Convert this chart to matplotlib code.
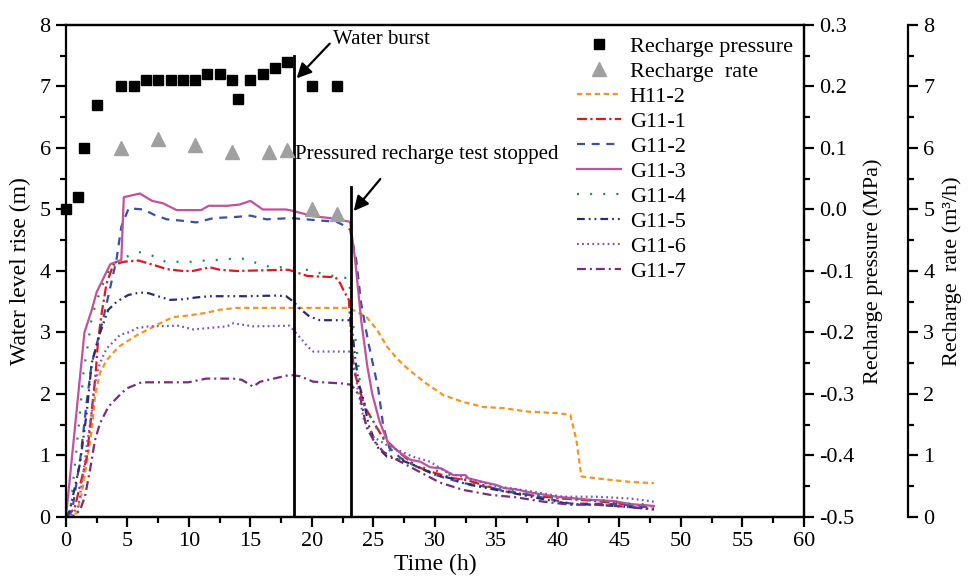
import numpy as np
import matplotlib
matplotlib.use("Agg")
import matplotlib.pyplot as plt
from matplotlib.ticker import MultipleLocator, FormatStrFormatter
from matplotlib.lines import Line2D

plt.rcParams['font.family'] = ['Liberation Serif', 'DejaVu Serif']

# water level rise (m) for each observation well
t_h112 = [0, 0.87, 1.28, 1.68, 2.09, 2.36, 2.76, 3.3, 4.3, 5.8, 6.7, 7.64, 8.72, 10.1, 11.4, 12.5, 13.9, 15.8, 18.5, 23.0,
          23.6, 24.4, 25.3, 26.1, 26.9, 27.5, 28.4, 29.3, 30.7, 32.3, 33.9, 35.55, 37.7, 39.9, 41.0, 41.5, 41.9, 43.1,
          44.4, 45.9, 47.8]
y_h112 = [0, 0.06, 0.38, 0.87, 1.41, 1.96, 2.34, 2.55, 2.77, 2.96, 3.05, 3.15, 3.25, 3.28, 3.32, 3.37, 3.4, 3.4, 3.4, 3.4,
          3.34, 3.26, 3.04, 2.77, 2.58, 2.46, 2.31, 2.17, 1.98, 1.87, 1.79, 1.77, 1.71, 1.69, 1.66, 1.25, 0.66, 0.63,
          0.6, 0.57, 0.55]

t_g111 = [0, 0.7, 1.7, 2.1, 2.4, 2.6, 2.9, 3.3, 3.85, 4.7, 5.9, 7.1, 8.2, 9.5, 10.3, 11.7, 12.5, 13.9, 15.8, 18.1, 19.6,
          20.6, 21.9, 22.3, 22.55, 23.0, 23.2, 23.4, 23.8, 24.3, 24.85, 25.7, 27.15, 28.5, 29.6, 31.5, 32.6, 33.9, 35.55,
          38.3, 40.4, 43.1, 45.3, 47.8]
y_g111 = [0, 0.14, 0.98, 1.74, 2.3, 2.85, 3.31, 3.8, 4.1, 4.15, 4.17, 4.1, 4.03, 4.0, 4.0, 4.06, 4.02, 4.0, 4.01, 4.02,
          3.92, 3.91, 3.9, 3.8, 3.69, 3.53, 2.9, 2.39, 2.12, 1.79, 1.6, 1.31, 1.04, 0.82, 0.74, 0.63, 0.6, 0.52, 0.42,
          0.34, 0.3, 0.26, 0.21, 0.17]

t_g112 = [0, 0.5, 1.2, 1.7, 2.1, 3.0, 4.1, 4.5, 5.1, 6.3, 7.2, 8.2, 9.3, 10.6, 12.0, 13.9, 15.0, 16.3, 18.3, 20.7, 22.0,
          22.8, 23.1, 23.6, 24.0, 24.6, 25.4, 25.8, 26.3, 27.2, 28.5, 30.1, 32.3, 33.4, 35.6, 37.7, 41.0, 44.8, 47.8]
y_g112 = [0, 0.1, 1.0, 1.9, 2.5, 3.2, 4.18, 4.72, 5.02, 5.0, 4.91, 4.84, 4.82, 4.79, 4.86, 4.88, 4.9, 4.84, 4.86, 4.82,
          4.8, 4.72, 4.67, 4.18, 3.47, 2.82, 2.07, 1.47, 1.12, 0.96, 0.82, 0.68, 0.55, 0.52, 0.43, 0.36, 0.22, 0.21, 0.15]

t_g113 = [0, 1.5, 2.1, 2.5, 3.6, 4.5, 4.7, 6.0, 7.0, 7.9, 9.0, 11.0, 11.6, 13.1, 14.1, 15.0, 16.0, 17.9, 18.4, 20.1,
          21.5, 23.1, 23.5, 24.0, 24.5, 24.9, 25.5, 26.2, 27.2, 28.0, 28.8, 29.6, 30.5, 31.5, 32.5, 32.7, 33.9, 35.0,
          35.6, 36.6, 37.7, 39.9, 42.6, 44.5, 45.9, 47.8]
y_g113 = [0, 3.0, 3.37, 3.66, 4.11, 4.18, 5.2, 5.26, 5.14, 5.1, 4.99, 4.99, 5.06, 5.06, 5.08, 5.14, 5.0, 5.0, 4.98, 4.89,
          4.86, 4.8, 4.2, 3.2, 2.45, 2.0, 1.55, 1.2, 1.04, 0.93, 0.9, 0.81, 0.79, 0.68, 0.68, 0.63, 0.57, 0.52, 0.47,
          0.45, 0.4, 0.33, 0.28, 0.26, 0.21, 0.18]

t_g114 = [0, 0.4, 1.0, 1.45, 1.8, 2.1, 2.8, 3.7, 4.9, 5.9, 7.0, 8.1, 9.2, 10.2, 11.3, 12.4, 13.5, 14.6, 15.6, 16.7, 17.7,
          18.8, 19.9, 20.9, 22.0, 23.0, 23.3, 23.6, 24.0, 25.0, 25.7, 26.3, 27.2, 28.2, 29.3, 30.4, 31.4, 32.4, 33.5,
          34.7, 35.7, 36.8, 37.9, 39.0, 40.0, 41.1, 42.2, 43.3, 44.4, 45.4, 47.8]
y_g114 = [0, 0.2, 1.4, 2.4, 2.82, 3.26, 3.69, 4.1, 4.23, 4.31, 4.25, 4.15, 4.15, 4.15, 4.17, 4.18, 4.2, 4.2, 4.12, 4.06,
          4.06, 4.04, 4.01, 3.95, 3.91, 3.88, 3.18, 2.82, 1.96, 1.52, 1.31, 1.09, 0.93, 0.85, 0.79, 0.74, 0.67, 0.6,
          0.52, 0.47, 0.45, 0.4, 0.36, 0.35, 0.3, 0.29, 0.28, 0.27, 0.26, 0.22, 0.2]

t_g115 = [0, 0.3, 1.14, 1.68, 2.09, 2.76, 3.44, 4.12, 5.07, 6.0, 6.7, 7.64, 8.46, 9.5, 10.6, 11.7, 13.0, 14.6, 17.1, 17.9,
          18.5, 19.0, 19.8, 20.65, 22.8, 23.2, 23.5, 23.8, 24.2, 24.6, 25.3, 26.1, 27.2, 28.2, 30.1, 31.3, 32.3, 33.4,
          35.55, 38.8, 41.0, 43.1, 45.3, 47.8]
y_g115 = [0, 0.1, 0.87, 1.69, 2.5, 2.99, 3.37, 3.5, 3.61, 3.65, 3.64, 3.58, 3.53, 3.54, 3.57, 3.59, 3.59, 3.59, 3.6, 3.59,
          3.5, 3.39, 3.26, 3.2, 3.2, 3.2, 2.6, 2.17, 1.9, 1.5, 1.14, 0.98, 0.93, 0.85, 0.68, 0.63, 0.55, 0.5, 0.42,
          0.29, 0.21, 0.2, 0.17, 0.13]

t_g116 = [0, 0.5, 1.0, 1.41, 1.68, 2.09, 2.36, 2.76, 3.3, 3.71, 4.39, 5.2, 5.74, 6.7, 9.1, 10.35, 13.1, 13.6, 15.2, 18.2,
          18.75, 19.2, 19.6, 20.1, 22.8, 23.3, 23.7, 24.2, 25.0, 26.1, 27.2, 28.2, 29.6, 31.0, 32.3, 35.0, 37.7, 40.4,
          43.1, 45.9, 47.8]
y_g116 = [0, 0.05, 0.17, 0.71, 1.14, 1.69, 2.17, 2.5, 2.74, 2.82, 2.96, 3.01, 3.07, 3.1, 3.11, 3.05, 3.1, 3.15, 3.1,
          3.11, 2.98, 2.88, 2.78, 2.69, 2.69, 2.69, 2.1, 1.6, 1.3, 1.17, 1.07, 0.98, 0.9, 0.72, 0.65, 0.5, 0.42, 0.33,
          0.33, 0.3, 0.25]

t_g117 = [0, 0.5, 1.14, 1.54, 1.95, 2.36, 2.76, 3.44, 4.25, 4.93, 6.15, 7.6, 9.95, 11.4, 13.6, 14.3, 15.2, 15.8, 17.1,
          18.2, 19.0, 20.1, 22.5, 23.2, 23.9, 24.2, 24.4, 25.0, 25.8, 26.9, 28.5, 30.4, 32.3, 34.5, 36.6, 38.8, 41.0,
          43.1, 45.3, 47.8]
y_g117 = [0, 0.0, 0.11, 0.33, 0.76, 1.25, 1.52, 1.79, 1.96, 2.09, 2.19, 2.19, 2.19, 2.25, 2.25, 2.23, 2.12, 2.2, 2.26,
          2.31, 2.29, 2.2, 2.17, 2.15, 1.96, 1.69, 1.47, 1.25, 1.06, 0.93, 0.76, 0.56, 0.44, 0.36, 0.32, 0.25, 0.2,
          0.2, 0.17, 0.12]

# recharge pressure (MPa) and recharge rate (m3/h)
t_press = [0, 1, 1.5, 2.5, 4.5, 5.5, 6.5, 7.5, 8.5, 9.5, 10.5, 11.5, 12.5, 13.5, 14, 15, 16, 17, 18, 20, 22]
press = [0.0, 0.02, 0.10, 0.17, 0.20, 0.20, 0.21, 0.21, 0.21, 0.21, 0.21, 0.22, 0.22, 0.21, 0.18, 0.21, 0.22, 0.23,
         0.24, 0.20, 0.20]
t_rate = [4.5, 7.5, 10.5, 13.5, 16.5, 18, 20, 22]
rate = [6.0, 6.15, 6.05, 5.93, 5.93, 5.97, 5.0, 4.93]

t_burst = 18.55
t_stop = 23.2

series = [
    ("H11-2", t_h112, y_h112, '#F7931E', (0, (2.4, 1.6))),
    ("G11-1", t_g111, y_g111, '#E8141B', (0, (4.5, 1.5, 1.0, 1.5))),
    ("G11-2", t_g112, y_g112, '#3A4FA6', (0, (3.6, 3.0))),
    ("G11-3", t_g113, y_g113, '#C4509E', '-'),
    ("G11-4", t_g114, y_g114, '#16904A', (0, (0.9, 5.0))),
    ("G11-5", t_g115, y_g115, '#2B2B73', (0, (3.5, 1.8, 0.8, 1.8, 0.8, 1.8))),
    ("G11-6", t_g116, y_g116, '#7D55C0', (0, (0.8, 1.5))),
    ("G11-7", t_g117, y_g117, '#7B2A7E', (0, (4.0, 1.8, 0.9, 1.8))),
]

label_size = 16

fig = plt.figure(figsize=(9.79, 5.77), dpi=100)
ax = fig.add_axes([0.0674, 0.104, 0.7538, 0.8527])
ax_p = ax.twinx()
ax_r = ax.twinx()
ax_r.spines['right'].set_position(('axes', 1.141))

line_handles = []
for name, t, y, col, ls in series:
    h, = ax.plot(t, y, color=col, linestyle=ls, linewidth=1.6, label=name)
    line_handles.append(h)

# event markers
ax.plot([t_burst, t_burst], [0, 7.5], color='black', linewidth=2)
ax.plot([t_stop, t_stop], [0, 5.37], color='black', linewidth=2)

ax.text(21.7, 7.77, "Water burst", fontsize=15, ha='left', va='center')
ax.annotate('', xy=(18.6, 7.1), xytext=(21.6, 7.73),
            arrowprops=dict(arrowstyle='-|>', color='black', lw=1.6, mutation_scale=22))
ax.text(18.6, 5.89, "Pressured recharge test stopped", fontsize=15, ha='left', va='center')
ax.annotate('', xy=(23.25, 4.94), xytext=(25.7, 5.53),
            arrowprops=dict(arrowstyle='-|>', color='black', lw=1.6, mutation_scale=22))

sq, = ax_p.plot(t_press, press, linestyle='none', marker='s', markersize=7, color='black', clip_on=False)
tri, = ax_r.plot(t_rate, rate, linestyle='none', marker='^', markersize=10, color='#A0A0A0')

ax.set_xlim(0, 60)
ax.set_ylim(0, 8)
ax_p.set_ylim(-0.5, 0.3)
ax_r.set_ylim(0, 8)

ax.xaxis.set_major_locator(MultipleLocator(5))
ax.xaxis.set_minor_locator(MultipleLocator(2.5))
ax.yaxis.set_major_locator(MultipleLocator(1))
ax.yaxis.set_minor_locator(MultipleLocator(0.5))
ax_p.yaxis.set_major_locator(MultipleLocator(0.1))
ax_p.yaxis.set_minor_locator(MultipleLocator(0.05))
ax_p.yaxis.set_major_formatter(FormatStrFormatter('%.1f'))
ax_r.yaxis.set_major_locator(MultipleLocator(1))
ax_r.yaxis.set_minor_locator(MultipleLocator(0.5))

for a in (ax, ax_p, ax_r):
    for s in a.spines.values():
        s.set_linewidth(1.6)
    a.tick_params(which='major', direction='out', length=7, width=1.6, labelsize=label_size, pad=4)
    a.tick_params(which='minor', direction='out', length=4, width=1.6)
ax.tick_params(top=False, right=False, which='both')
ax_p.spines['left'].set_visible(False)
ax_r.spines['left'].set_visible(False)
ax_r.spines['top'].set_visible(False)
ax_r.spines['bottom'].set_visible(False)

ax.set_xlabel("Time (h)", fontsize=17, labelpad=2)
ax.set_ylabel("Water level rise (m)", fontsize=17, labelpad=6)
ax_p.set_ylabel("Recharge pressure (MPa)", fontsize=16, labelpad=6)
ax_r.set_ylabel("Recharge  rate (m\u00b3/h)", fontsize=16, labelpad=6)

handles = [sq, tri] + line_handles
labels = ["Recharge pressure", "Recharge  rate"] + [s[0] for s in series]
ax_r.legend(handles, labels, loc='upper right', bbox_to_anchor=(1.0, 1.0), frameon=False,
            fontsize=16, labelspacing=0.2, handlelength=2.0, handletextpad=0.4,
            borderpad=0.3, borderaxespad=0.2, numpoints=1)

plt.savefig("out.png", dpi=100)
plt.close(fig)
